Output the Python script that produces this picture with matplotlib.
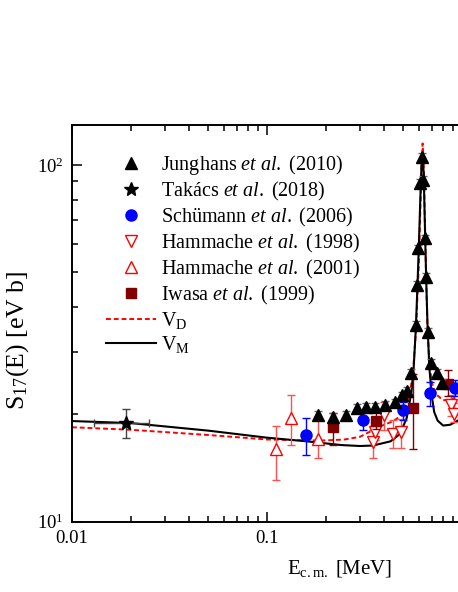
import numpy as np
import matplotlib
matplotlib.use('Agg')
import matplotlib.pyplot as plt
from matplotlib.lines import Line2D

plt.rcParams['font.family'] = 'Liberation Serif'
plt.rcParams['mathtext.fontset'] = 'custom'
plt.rcParams['mathtext.rm'] = 'Liberation Serif'
plt.rcParams['mathtext.it'] = 'Liberation Serif:italic'

# model curves
vm_x = [0.01, 0.02, 0.05, 0.1, 0.16, 0.24, 0.3, 0.35, 0.43, 0.48, 0.52, 0.55, 0.565,
        0.58, 0.59, 0.60, 0.61, 0.62, 0.628, 0.636, 0.645, 0.655, 0.665, 0.68, 0.70,
        0.72, 0.75, 0.80, 0.87, 0.95, 1.05]
vm_y = [19.15, 18.9, 18.0, 17.2, 16.8, 16.4, 16.3, 16.35, 16.8, 17.6, 19.5, 23.0, 27,
        35, 45, 58, 78, 100, 106, 95, 68, 48, 36, 27, 22.5,
        20.3, 19.2, 18.6, 18.7, 19.2, 19.8]

vd_x = [0.01, 0.02, 0.05, 0.1, 0.16, 0.2, 0.25, 0.3, 0.38, 0.44, 0.5, 0.54, 0.56,
        0.58, 0.60, 0.61, 0.62, 0.628, 0.636, 0.645, 0.655, 0.665, 0.68, 0.70,
        0.74, 0.80, 0.87, 0.95, 1.05]
vd_y = [18.4, 18.1, 17.5, 17.0, 16.9, 16.9, 17.0, 17.3, 18.5, 19.1, 20.0, 22.9, 26,
        34, 52, 72, 100, 115, 100, 70, 48, 35, 28, 24.5,
        22.7, 21.9, 22.0, 22.4, 23.0]

# Junghans et al. (2010)
jun_x = [0.183, 0.217, 0.255, 0.288, 0.322, 0.36, 0.403, 0.453, 0.49, 0.52, 0.55,
         0.579, 0.588, 0.594, 0.609, 0.620, 0.632, 0.645, 0.652, 0.666, 0.69, 0.74, 0.79]
jun_y = [19.9, 19.7, 19.9, 20.9, 21.0, 21.0, 21.3, 21.6, 22.6, 23.3, 26.1,
         35.6, 46.1, 58.4, 88.9, 105.5, 90.8, 62.3, 48.6, 34.1, 27.8, 26.2, 24.5]

# Takacs et al. (2018)
tak_x = [0.0189]
tak_y = [18.95]
tak_xlo = [0.0130]
tak_xhi = [0.0249]
tak_ylo = [17.2]
tak_yhi = [20.7]

# Schumann et al. (2006)
sch_x = [0.158, 0.31, 0.50, 0.685, 0.92]
sch_y = [17.5, 19.3, 20.6, 22.9, 23.7]
sch_lo = [15.4, 18.1, 19.3, 21.1, 22.5]
sch_hi = [19.5, 20.5, 21.7, 24.7, 25.0]

# Hammache et al. (1998)
h98_x = [0.35, 0.36, 0.40, 0.445, 0.485, 0.88, 0.91]
h98_y = [16.7, 17.9, 19.9, 17.6, 17.8, 21.2, 20.1]
h98_lo = [15.1, 16.9, 18.1, 16.1, 16.1, 19.8, 19.0]
h98_hi = [18.1, 19.0, 21.7, 19.3, 19.4, 22.6, 21.5]

# Hammache et al. (2001)
h01_x = [0.111, 0.132, 0.183]
h01_y = [15.96, 19.5, 17.1]
h01_lo = [13.1, 16.4, 15.1]
h01_hi = [18.5, 22.6, 19.6]

# Iwasa et al. (1999)
iwa_x = [0.217, 0.364, 0.5625, 0.845]
iwa_y = [18.4, 19.2, 20.9, 24.4]
iwa_lo = [16.4, 18.2, 16.0, 22.5]
iwa_hi = [20.2, 20.3, 26.0, 26.6]

red = '#ff0000'
brown = '#800000'

fig = plt.figure(figsize=(4.58, 5.92), dpi=100)
ax = fig.add_axes([0.1572, 0.1188, 1.1668, 0.6700])

ax.plot(vd_x, vd_y, color=red, lw=1.4, ls=(0, (2.5, 1.5)), zorder=2)
ax.plot(vm_x, vm_y, color='k', lw=1.5, zorder=2)


def yerr(y, lo, hi):
    y = np.array(y)
    return [y - np.array(lo), np.array(hi) - y]


ax.errorbar(h01_x, h01_y, yerr=yerr(h01_y, h01_lo, h01_hi), fmt='^', ms=9, mfc='white',
            mec=red, ecolor='#ff5050', elinewidth=1, capsize=3, zorder=3)
ax.errorbar(h98_x, h98_y, yerr=yerr(h98_y, h98_lo, h98_hi), fmt='v', ms=9, mfc='white',
            mec=red, ecolor='#ff5050', elinewidth=1, capsize=3, zorder=3)
ax.errorbar(iwa_x, iwa_y, yerr=yerr(iwa_y, iwa_lo, iwa_hi), fmt='s', ms=7, color=brown,
            ecolor=brown, elinewidth=1, capsize=3, zorder=4)
ax.errorbar(sch_x, sch_y, yerr=yerr(sch_y, sch_lo, sch_hi), fmt='o', ms=8, color='#0000ff',
            ecolor='#0000ff', elinewidth=1, capsize=3, zorder=4)
ax.errorbar(jun_x, jun_y, yerr=np.array(jun_y) * 0.025, fmt='^', ms=9, color='k',
            ecolor='#666666', elinewidth=0.8, capsize=3, zorder=5)
ax.errorbar(tak_x, tak_y,
            xerr=[np.array(tak_x) - np.array(tak_xlo), np.array(tak_xhi) - np.array(tak_x)],
            yerr=yerr(tak_y, tak_ylo, tak_yhi), fmt='*', ms=10, color='k',
            ecolor='#444444', elinewidth=1, capsize=3, zorder=5)

ax.set_xscale('log')
ax.set_yscale('log')
ax.set_xlim(0.01, 5.5)
ax.set_ylim(10, 129.5)
ax.set_xticks([0.01, 0.1, 1])
ax.set_xticklabels(['0.01', '0.1', '1'])

ax.tick_params(which='both', direction='in', top=True, right=True, labelsize=13.5, width=1.1)
ax.tick_params(which='major', length=7, pad=6)
ax.tick_params(which='minor', length=4)
for s in ax.spines.values():
    s.set_linewidth(1.4)

ax.set_xlabel(r'E$_{\mathrm{c.m.}}$ [MeV]', fontsize=15, labelpad=8)
ax.set_ylabel(r'S$_{17}$(E) [eV b]', fontsize=18.5)
ax.yaxis.set_label_coords(-0.077, 0.458)

handles = [
    Line2D([], [], ls='none', marker='^', ms=9, color='k'),
    Line2D([], [], ls='none', marker='*', ms=10, color='k'),
    Line2D([], [], ls='none', marker='o', ms=8, color='#0000ff'),
    Line2D([], [], ls='none', marker='v', ms=9, mfc='white', mec=red),
    Line2D([], [], ls='none', marker='^', ms=9, mfc='white', mec=red),
    Line2D([], [], ls='none', marker='s', ms=7, color=brown),
    Line2D([], [], color=red, lw=1.4, ls=(0, (2.5, 1.5))),
    Line2D([], [], color='k', lw=1.5),
]
labels = [
    r'Junghans $\it{et\ al.}$ (2010)',
    r'Takács $\it{et\ al.}$ (2018)',
    r'Schümann $\it{et\ al.}$ (2006)',
    r'Hammache $\it{et\ al.}$ (1998)',
    r'Hammache $\it{et\ al.}$ (2001)',
    r'Iwasa $\it{et\ al.}$ (1999)',
    r'V$_{\mathrm{D}}$',
    r'V$_{\mathrm{M}}$',
]
ax.legend(handles, labels, loc='upper left', bbox_to_anchor=(0.064, 0.93), frameon=False,
          fontsize=14.5, handlelength=2.45, handletextpad=0.25, labelspacing=0.15,
          borderaxespad=0, borderpad=0)

fig.savefig('out.png', dpi=100)
